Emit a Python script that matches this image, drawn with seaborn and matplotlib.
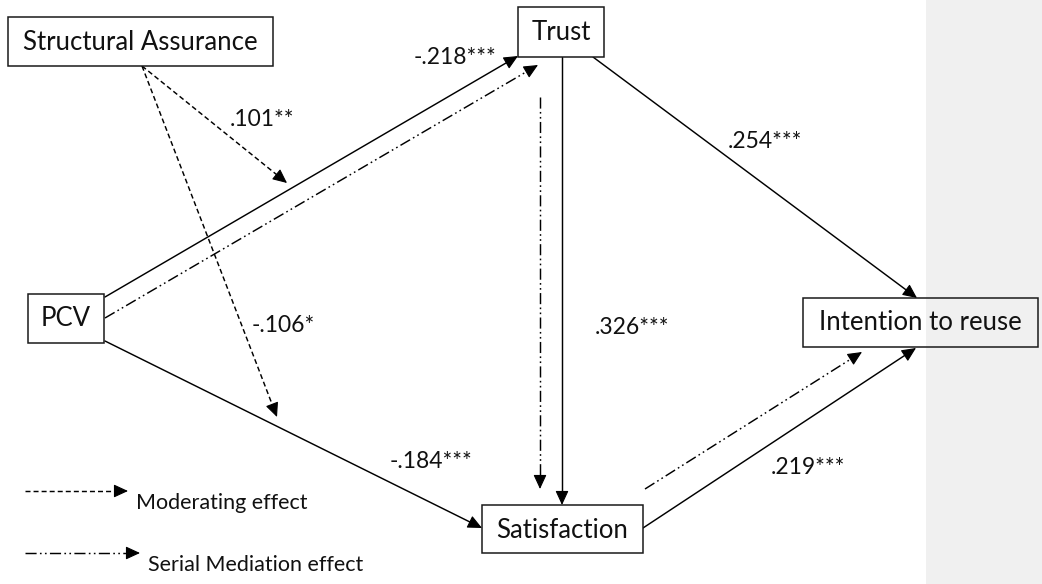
import matplotlib
matplotlib.use("Agg")
import matplotlib.pyplot as plt
from matplotlib.patches import Rectangle
import seaborn as sns
import numpy as np

sns.set_theme(style="white")
plt.rcParams["font.family"] = ["Lato", "DejaVu Sans"]
plt.rcParams["lines.scale_dashes"] = False

# nodes: name, centre x, centre y, width, height (pixel space of the diagram)
NODE_NAMES = ["Structural Assurance", "Trust", "PCV", "Satisfaction", "Intention to reuse"]
NODE_X = [140, 561, 66, 562, 920]
NODE_Y = [41, 32, 318, 529, 322]
NODE_W = [265, 86, 76, 161, 235]
NODE_H = [49, 50, 49, 48, 49]

# edges: start, end, kind
EDGE_START = [(105, 297), (105, 318), (105, 341), (562, 57), (540, 97),
              (593, 57), (643, 528), (645, 489), (142, 66), (142, 66)]
EDGE_END = [(518, 56), (538, 65), (482, 528), (562, 505), (540, 489),
            (917, 298), (916, 348), (862, 352), (287, 183), (277, 417)]
EDGE_KIND = ["direct", "serial", "direct", "direct", "serial",
             "direct", "direct", "serial", "moderate", "moderate"]

# path coefficients and where they sit
COEF_TEXT = ["-.218***", ".101**", ".254***", "-.106*", ".326***", "-.184***", ".219***"]
COEF_X = [455, 262, 765, 283, 632, 431, 808]
COEF_Y = [58, 120, 141, 326, 328, 461, 468]

LEGEND_TEXT = ["Moderating effect", "Serial Mediation effect"]
LEGEND_KIND = ["moderate", "serial"]
LEGEND_Y = [491, 553]
LEGEND_END = [128, 140]

STYLES = {
    "direct": "-",
    "moderate": (0, (3.6, 2.2)),
    "serial": (0, (8, 2.4, 1.2, 2.4, 1.2, 2.4)),
}

W, H = 1042, 584
fig = plt.figure(figsize=(W / 100, H / 100), dpi=100)
ax = fig.add_axes([0, 0, 1, 1])
ax.set_xlim(0, W)
ax.set_ylim(H, 0)
ax.axis("off")

# grey strip on the right
ax.add_patch(Rectangle((926, 0), W - 926, H, facecolor="#f0f0f0", edgecolor="none", zorder=0))


def arrow(p0, p1, kind, head=10):
    p0 = np.array(p0, float)
    p1 = np.array(p1, float)
    d = p1 - p0
    u = d / np.hypot(*d)
    base = p1 - u * head
    ax.plot([p0[0], base[0]], [p0[1], base[1]], color="black", lw=1.05,
            linestyle=STYLES[kind], zorder=2)
    ax.annotate("", xy=p1, xytext=base,
                arrowprops=dict(arrowstyle="-|>,head_length=0.65,head_width=0.3",
                                color="black", lw=0.8, shrinkA=0, shrinkB=0,
                                mutation_scale=13.5), zorder=3)


for name, x, y, w, h in zip(NODE_NAMES, NODE_X, NODE_Y, NODE_W, NODE_H):
    fc = "none" if name == "Intention to reuse" else "white"
    ax.add_patch(Rectangle((x - w / 2, y - h / 2), w, h, facecolor=fc,
                           edgecolor="#1a1a1a", lw=1.1, zorder=4))
    ax.text(x, y + 1, name, ha="center", va="center", fontsize=18.5, color="#111111", zorder=5)

for t, x, y in zip(COEF_TEXT, COEF_X, COEF_Y):
    ax.text(x, y, t, ha="center", va="center", fontsize=16.5, color="#111111")

for s, e, k in zip(EDGE_START, EDGE_END, EDGE_KIND):
    arrow(s, e, k)

for t, k, y, xe in zip(LEGEND_TEXT, LEGEND_KIND, LEGEND_Y, LEGEND_END):
    arrow((25, y), (xe, y), k)
    ax.text(xe + 8, y + 12, t, ha="left", va="center", fontsize=15.5, color="#111111")

fig.savefig("out.png", dpi=100)
